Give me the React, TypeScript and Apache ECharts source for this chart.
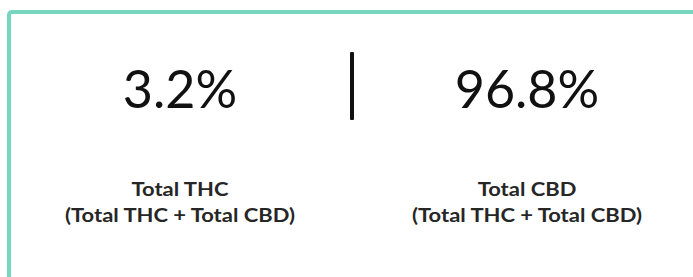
import React, { useEffect, useRef } from "react";
import * as echarts from "echarts";

const metricValues: number[] = [3.2, 96.8];
const metricTitles: string[] = ["Total THC", "Total CBD"];
const metricSubtitles: string[] = ["(Total THC + Total CBD)", "(Total THC + Total CBD)"];

const columnCenters = [180, 527];

export default function App() {
  const ref = useRef<HTMLDivElement>(null);
  useEffect(() => {
    document.body.style.margin = "0";
    const chart = echarts.init(ref.current!, null, { renderer: "svg" });
    const elements: any[] = [
      {
        type: "rect",
        shape: { x: 9, y: 12, width: 900, height: 500, r: 3 },
        style: { fill: "#ffffff", stroke: "#76d6c0", lineWidth: 4 },
        z: 0,
      },
      {
        type: "rect",
        shape: { x: 350, y: 52, width: 4, height: 68, r: 1 },
        style: { fill: "#111111" },
        z: 2,
      },
    ];
    metricValues.forEach((v, i) => {
      const cx = columnCenters[i];
      elements.push({
        type: "text",
        x: cx,
        y: 88,
        z: 3,
        style: {
          text: `${v.toFixed(1)}%`,
          fontFamily: "Lato",
          fontSize: 52,
          fontWeight: 400,
          fill: "#111111",
          align: "center",
          verticalAlign: "middle",
        },
      });
      elements.push({
        type: "text",
        x: cx,
        y: 189,
        scaleX: 1.22,
        z: 3,
        style: {
          text: metricTitles[i],
          fontFamily: "Lato",
          fontSize: 18,
          fontWeight: 700,
          fill: "#262626",
          align: "center",
          verticalAlign: "middle",
        },
      });
      elements.push({
        type: "text",
        x: cx,
        y: 215,
        scaleX: 1.22,
        z: 3,
        style: {
          text: metricSubtitles[i],
          fontFamily: "Lato",
          fontSize: 18,
          fontWeight: 700,
          fill: "#262626",
          align: "center",
          verticalAlign: "middle",
        },
      });
    });
    chart.setOption({
      animation: false,
      backgroundColor: "#ffffff",
      graphic: { elements },
    });
    return () => chart.dispose();
  }, []);
  return (
    <div
      ref={ref}
      style={{ position: "absolute", left: 0, top: 0, width: 693, height: 277 }}
    />
  );
}
